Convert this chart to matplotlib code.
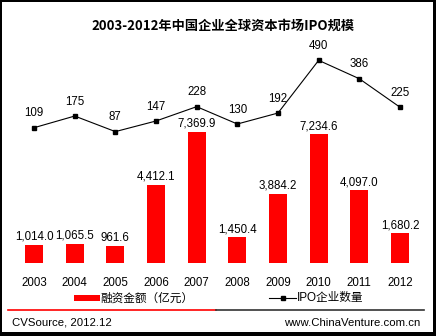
import matplotlib
matplotlib.use("Agg")
import matplotlib.pyplot as plt
from matplotlib.patches import Rectangle
from matplotlib.lines import Line2D

years = ["2003", "2004", "2005", "2006", "2007", "2008", "2009", "2010", "2011", "2012"]
amount = [1014.0, 1065.5, 961.6, 4412.1, 7369.9, 1450.4, 3884.2, 7234.6, 4097.0, 1680.2]
ipo_count = [109, 175, 87, 147, 228, 130, 192, 490, 386, 225]

title = "2003-2012年中国企业全球资本市场IPO规模"
legend_bar = "融资金额（亿元）"
legend_line = "IPO企业数量"
source_left = "CVSource, 2012.12"
source_right = "www.ChinaVenture.com.cn"

W, H = 436, 336
FAM = ["Liberation Sans", "Noto Sans CJK SC", "DejaVu Sans"]
plt.rcParams["font.family"] = FAM

fig = plt.figure(figsize=(W / 100, H / 100), dpi=100)
fig.patch.set_facecolor("white")

def fx(x):
    return x / W

def fy(y):
    return 1 - y / H

left, right, top, bottom = 13.7, 420.3, 40, 263
ax = fig.add_axes([fx(left), fy(bottom), fx(right) - fx(left), fy(top) - fy(bottom)])
ax.set_facecolor("none")
x = list(range(len(years)))
bars = ax.bar(x, amount, width=0.44, color="#ff0000", zorder=2)
ax.set_xlim(-0.5, len(years) - 0.5)
ax.set_ylim(0, (bottom - top) / 0.017775)
for xi, v in zip(x, amount):
    ax.annotate(f"{v:,.1f}", (xi, v), xytext=(0, 1.5), textcoords="offset points",
                ha="center", va="bottom", fontsize=8.3, color="black")
ax.set_xticks(x)
ax.set_xticklabels(years, fontsize=8.3)
ax.tick_params(axis="x", length=0, pad=10)
ax.set_yticks([])
for s in ax.spines.values():
    s.set_visible(False)

ax2 = ax.twinx()
ax2.set_ylim(-656, 605)
ax2.plot(x, ipo_count, color="black", lw=0.8, marker="s", ms=3.5,
         markerfacecolor="black", markeredgecolor="black", zorder=3)
for xi, v in zip(x, ipo_count):
    ax2.annotate(f"{v}", (xi, v), xytext=(0, 6), textcoords="offset points",
                 ha="center", va="bottom", fontsize=8.3, color="black")
ax2.set_yticks([])
for s in ax2.spines.values():
    s.set_visible(False)

# title
fig.text(fx(223), fy(26), title, ha="center", va="center", fontsize=9.5,
         fontweight="bold", family=["Noto Sans CJK SC", "DejaVu Sans"])

# legend
fig.add_artist(Rectangle((fx(74), fy(300.5)), fx(26), fy(294.5) - fy(300.5),
                         transform=fig.transFigure, color="#ff0000", lw=0))
fig.text(fx(100), fy(298), legend_bar, ha="left", va="center", fontsize=8.4,
         family=["Noto Sans CJK SC", "DejaVu Sans"])
fig.add_artist(Line2D([fx(269), fx(296)], [fy(297.5), fy(297.5)], transform=fig.transFigure,
                      color="black", lw=0.8, marker=None))
fig.add_artist(Line2D([fx(282.5)], [fy(297.5)], transform=fig.transFigure,
                      color="black", marker="s", ms=3.5, lw=0))
fig.text(fx(297), fy(298), legend_line, ha="left", va="center", fontsize=8.4,
         family=["Liberation Sans", "Noto Sans CJK SC"])

# separator
fig.add_artist(Line2D([fx(8), fx(216)], [fy(310), fy(310)], transform=fig.transFigure,
                      color="#ff0000", lw=1.2))
fig.add_artist(Line2D([fx(216), fx(424)], [fy(310), fy(310)], transform=fig.transFigure,
                      color="#333333", lw=1.2))

# footer
fig.text(fx(12), fy(322.5), source_left, ha="left", va="center", fontsize=8.2)
fig.text(fx(420), fy(322.5), source_right, ha="right", va="center", fontsize=8.2)

# border
for (x0, y0, w, h) in [(0, 0, W, 2), (0, 0, 2, H), (W - 3, 0, 3, H), (0, H - 4, W, 4)]:
    fig.add_artist(Rectangle((fx(x0), fy(y0 + h)), fx(w), fy(y0) - fy(y0 + h),
                             transform=fig.transFigure, color="black", lw=0))

fig.savefig("out.png", dpi=100, facecolor="white")
